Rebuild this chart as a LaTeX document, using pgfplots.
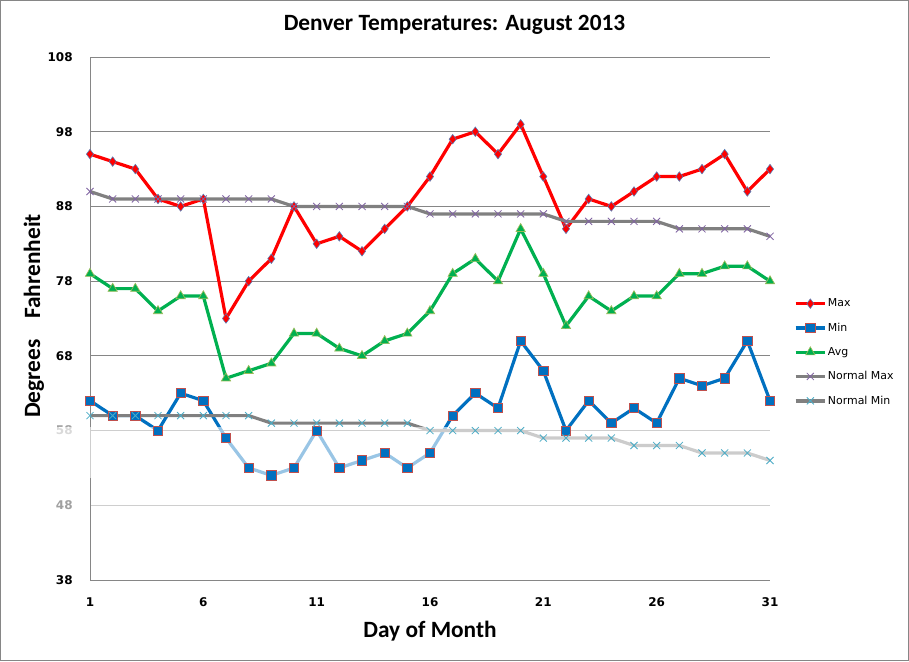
\documentclass[border=0pt]{standalone}
\usepackage{pgfplots}
\pgfplotsset{compat=1.18}
\usepackage{pgfplotstable}
\usepackage{fontspec}
\setmainfont{Carlito}
\newfontfamily\tickfont{DejaVu Sans}
\definecolor{gridgray}{HTML}{868686}
\definecolor{fadegray}{HTML}{A0A0A0}
\definecolor{maxred}{HTML}{FF0000}
\definecolor{maxedge}{HTML}{4F81BD}
\definecolor{minblue}{HTML}{0070C0}
\definecolor{minedge}{HTML}{C0504D}
\definecolor{avggreen}{HTML}{00B050}
\definecolor{avgedge}{HTML}{9BBB59}
\definecolor{normline}{HTML}{808080}
\definecolor{nmaxmark}{HTML}{8064A2}
\definecolor{nminmark}{HTML}{4BACC6}

\pgfplotstableread{
day max min avg nmax nmin
1  95 62 79 90 60
2  94 60 77 89 60
3  93 60 77 89 60
4  89 58 74 89 60
5  88 63 76 89 60
6  89 62 76 89 60
7  73 57 65 89 60
8  78 53 66 89 60
9  81 52 67 89 59
10 88 53 71 88 59
11 83 58 71 88 59
12 84 53 69 88 59
13 82 54 68 88 59
14 85 55 70 88 59
15 88 53 71 88 59
16 92 55 74 87 58
17 97 60 79 87 58
18 98 63 81 87 58
19 95 61 78 87 58
20 99 70 85 87 58
21 92 66 79 87 57
22 85 58 72 86 57
23 89 62 76 86 57
24 88 59 74 86 57
25 90 61 76 86 56
26 92 59 76 86 56
27 92 65 79 85 56
28 93 64 79 85 55
29 95 65 80 85 55
30 90 70 80 85 55
31 93 62 78 84 54
}\datatable

\begin{document}
\begin{tikzpicture}
\useasboundingbox (0,0) rectangle (681.75pt,495.75pt);
\draw[gridgray, line width=1.1pt] (0.55pt,0.55pt) rectangle (681.2pt,495.2pt);
\begin{axis}[
  at={(67.5pt,60.75pt)}, anchor=south west,
  scale only axis, width=510pt, height=392.25pt,
  xmin=1, xmax=31, ymin=38, ymax=108,
  xtick={1,6,...,31}, ytick={38,48,...,108},
  yticklabels={38,\textcolor{fadegray}{48},\textcolor{fadegray}{58},68,78,88,98,108},
  axis lines*=left,
  axis line style={draw=gridgray, line width=0.75pt, -},
  ymajorgrids, grid style={draw=gridgray, line width=0.75pt},
  major tick length=0pt,
  /pgf/number format/assume math mode=true,
  tick label style={font=\tickfont\bfseries\fontsize{9}{11}\selectfont},
  yticklabel style={xshift=-9.5pt},
  xticklabel style={yshift=-9.5pt},
  clip=false,
  legend style={at={(1.035,0.541)}, anchor=north west, draw=none, fill=none,
    font=\tickfont\fontsize{8.2}{9.5}\selectfont, row sep=8.6pt, inner sep=0pt,
    nodes={inner sep=1pt}},
  legend cell align=left,
  legend image code/.code={\draw[mark repeat=2,mark phase=2,#1] plot coordinates {(0pt,0pt) (11pt,0pt) (22pt,0pt)};},
]
\addplot[color=maxred, line width=2.4pt, mark=diamond*, mark size=3.6pt,
  mark options={solid, fill=maxred, draw=maxedge, line width=0.4pt}]
  table[x=day, y=max] {\datatable};
\addlegendentry{Max}
\addplot[color=minblue, line width=2.4pt, mark=square*, mark size=3.5pt,
  mark options={solid, fill=minblue, draw=minedge, line width=0.6pt}]
  table[x=day, y=min] {\datatable};
\addlegendentry{Min}
\addplot[color=avggreen, line width=2.4pt, mark=triangle*, mark size=4pt,
  mark options={solid, fill=avggreen, draw=avgedge, line width=0.5pt}]
  table[x=day, y=avg] {\datatable};
\addlegendentry{Avg}
\addplot[color=normline, line width=2.4pt, mark=x, mark size=3.75pt,
  mark options={solid, draw=nmaxmark, line width=0.6pt}]
  table[x=day, y=nmax] {\datatable};
\addlegendentry{Normal Max}
\addplot[color=normline, line width=2.4pt, mark=x, mark size=3.75pt,
  mark options={solid, draw=nminmark, line width=0.6pt}]
  table[x=day, y=nmin] {\datatable};
\addlegendentry{Normal Min}
\fill[white, opacity=0.6] (axis cs:-0.8,51.7) rectangle (axis cs:31.3,58.45);
\fill[white, opacity=0.6] (axis cs:1.05,47.5) rectangle (axis cs:31,48.5);
\end{axis}
\node[font=\bfseries\fontsize{17.5}{20}\selectfont] at (340.9pt,476.8pt) {Denver Temperatures: August 2013};
\node[rotate=90, font=\bfseries\fontsize{17.5}{20}\selectfont] at (25.5pt,258.75pt) {Degrees\hspace{0.9em}Fahrenheit};
\node[font=\bfseries\fontsize{17.5}{20}\selectfont] at (322.5pt,22.5pt) {Day of Month};
\end{tikzpicture}
\end{document}
